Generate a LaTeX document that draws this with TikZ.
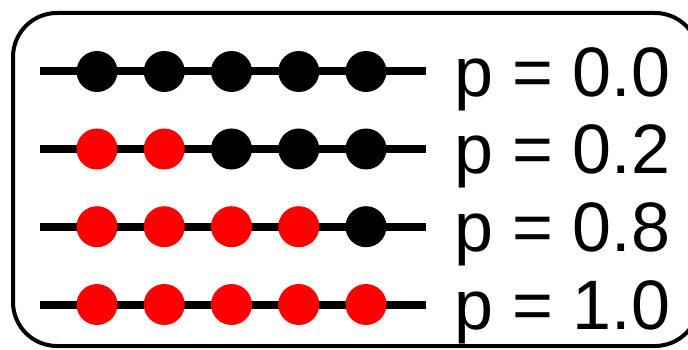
\documentclass[tikz,border=0pt]{standalone}
\usepackage{fontspec}
\setmainfont{Liberation Sans}
\begin{document}
\begin{tikzpicture}[x=1pt,y=-1pt,
  wire/.style={line width=8pt},
  bead/.style={circle,inner sep=0pt,minimum size=41pt,draw=none},
  blackbead/.style={bead,fill=black},
  redbead/.style={bead,fill=red},
  plabel/.style={anchor=base west,inner sep=0pt,font=\fontsize{70}{70}\selectfont},
  frame/.style={line width=4pt,rounded corners=44pt}]
\useasboundingbox (0,0) rectangle (688,350);
\clip (0,0) rectangle (688,350);
% outer rounded frame
\draw[frame] (13,13) rectangle (699,346);
% one row per probability value: 1 = red bead, 0 = black bead
\foreach \row/\y/\pattern/\txt in {
    1/71.5/{0,0,0,0,0}/0.0,
    2/149/{1,1,0,0,0}/0.2,
    3/226.7/{1,1,1,1,0}/0.8,
    4/304.5/{1,1,1,1,1}/1.0}{
  \coordinate (L\row) at (40,\y);
  \coordinate (R\row) at (426,\y);
  \draw[wire] (L\row) -- (R\row);
  \foreach \c [count=\i] in \pattern {
    \pgfmathsetmacro{\bx}{97+67.25*(\i-1)}
    \ifnum\c=1
      \node[redbead] (b\row-\i) at (\bx,\y) {};
    \else
      \node[blackbead] (b\row-\i) at (\bx,\y) {};
    \fi
  }
  \node[plabel] (p\row) at (454,\y+25) {p = \txt};
}
\end{tikzpicture}
\end{document}
